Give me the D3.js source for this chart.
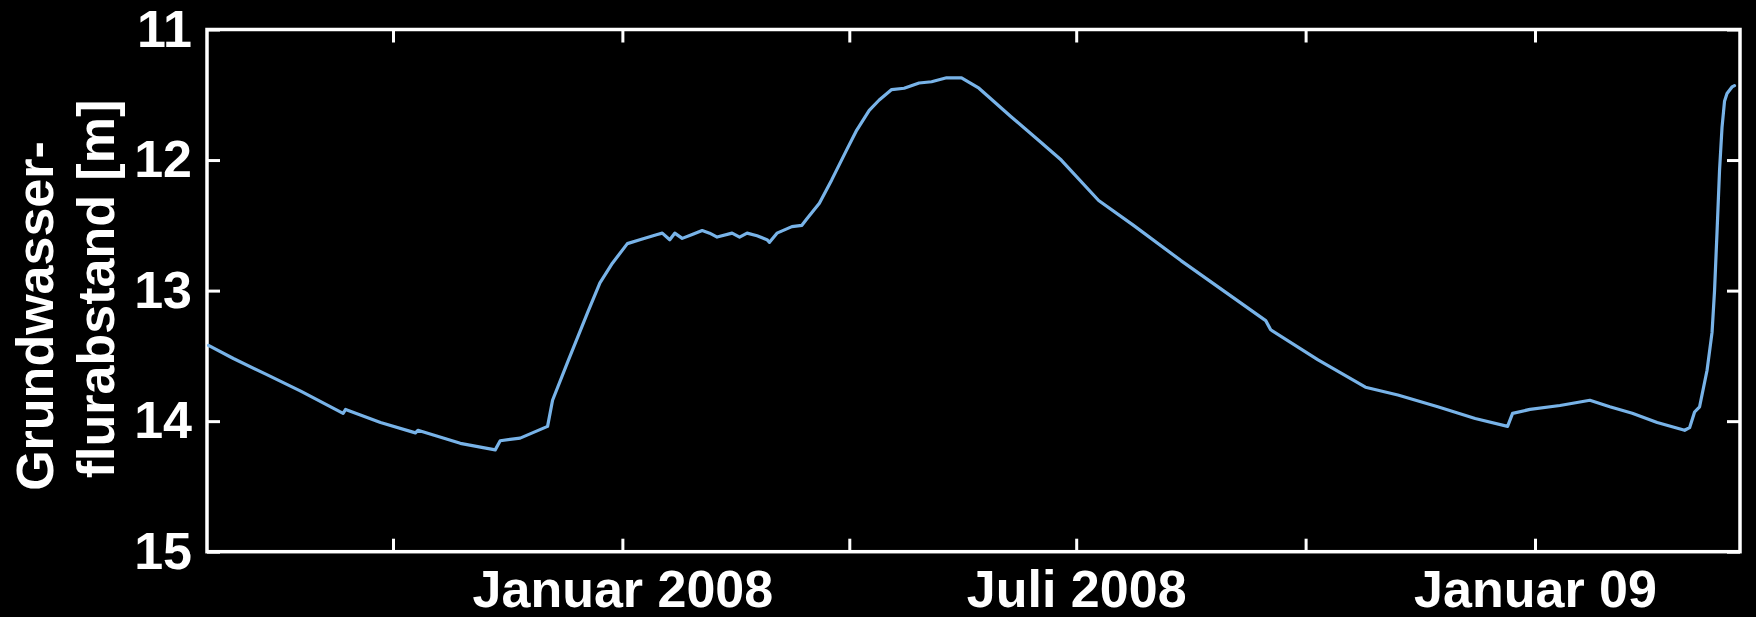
<!DOCTYPE html>
<html>
<head>
<meta charset="utf-8">
<script src="https://cdn.jsdelivr.net/npm/d3@7"></script>
<style>
  html, body { margin: 0; padding: 0; background: #000; }
  svg { display: block; }
  text { font-family: "Liberation Sans", Arial, sans-serif; font-weight: bold; fill: #fff; }
</style>
</head>
<body>
<svg id="chart" width="1756" height="617"></svg>
<script>
// Groundwater depth below surface (m), measured dates
const dates = [
  "2007-07-19","2007-07-29","2007-08-11","2007-08-25","2007-09-11","2007-09-12","2007-09-26",
  "2007-10-10","2007-10-11","2007-10-28","2007-11-11","2007-11-13","2007-11-21","2007-12-02",
  "2007-12-04","2007-12-10","2007-12-18","2007-12-23","2007-12-28","2008-01-03","2008-01-08",
  "2008-01-15","2008-01-17","2008-01-20","2008-01-22","2008-01-25","2008-01-29","2008-02-02",
  "2008-02-05","2008-02-08","2008-02-14","2008-02-17","2008-02-20","2008-02-24","2008-02-28",
  "2008-02-29","2008-03-03","2008-03-09","2008-03-13","2008-03-15","2008-03-20","2008-03-25",
  "2008-03-31","2008-04-04","2008-04-09","2008-04-13","2008-04-18","2008-04-23","2008-04-29",
  "2008-05-04","2008-05-10","2008-05-16","2008-05-23","2008-06-05","2008-06-16","2008-06-25",
  "2008-07-10","2008-07-24","2008-08-12","2008-08-29","2008-09-15","2008-09-17","2008-10-06",
  "2008-10-25","2008-11-07","2008-11-23","2008-12-08","2008-12-21","2008-12-23","2008-12-30",
  "2009-01-11","2009-01-23","2009-01-31","2009-02-09","2009-02-19","2009-03-02","2009-03-04",
  "2009-03-06","2009-03-08","2009-03-11","2009-03-13","2009-03-14","2009-03-15","2009-03-16",
  "2009-03-17","2009-03-18","2009-03-19","2009-03-21","2009-03-22"
];
const depth = [
  13.42, 13.52, 13.64, 13.77, 13.94, 13.91, 14.01,
  14.09, 14.07, 14.17, 14.22, 14.15, 14.13, 14.04,
  13.84, 13.55, 13.17, 12.94, 12.79, 12.64, 12.61,
  12.57, 12.56, 12.61, 12.56, 12.60, 12.57, 12.54,
  12.56, 12.59, 12.56, 12.59, 12.56, 12.58, 12.61,
  12.63, 12.56, 12.51, 12.50, 12.45, 12.33, 12.15,
  11.92, 11.77, 11.62, 11.54, 11.46, 11.45, 11.41,
  11.40, 11.37, 11.37, 11.45, 11.67, 11.85, 12.00,
  12.31, 12.50, 12.77, 13.00, 13.23, 13.30, 13.53,
  13.74, 13.80, 13.89, 13.98, 14.04, 13.94, 13.91,
  13.88, 13.84, 13.89, 13.94, 14.01, 14.07, 14.05,
  13.93, 13.89, 13.61, 13.32, 13.00, 12.55, 12.08,
  11.75, 11.55, 11.49, 11.44, 11.43
];

// Axis ticks
const xTickDates = ["2007-10-01","2008-01-01","2008-04-01","2008-07-01","2008-10-01","2009-01-01"];
const xTickLabels = ["", "Januar 2008", "", "Juli 2008", "", "Januar 09"];
const yTicks = [11, 12, 13, 14, 15];
const yTitle = ["Grundwasser-", "flurabstand [m]"];

const parse = d3.timeParse("%Y-%m-%d");
const parseDT = d3.timeParse("%Y-%m-%dT%H:%M");
const series = dates.map((d, i) => ({ t: parse(d), v: depth[i] }));

const plot = { left: 207, right: 1740, top: 29.5, bottom: 551.7 };
const svg = d3.select("#chart");
svg.append("rect").attr("width", 1756).attr("height", 617).attr("fill", "#000");

const x = d3.scaleTime()
  .domain([parseDT("2007-07-18T10:00"), parseDT("2009-03-24T05:00")])
  .range([plot.left, plot.right]);
const y = d3.scaleLinear().domain([11, 15]).range([plot.top, plot.bottom]);

const tickLen = 13;
const fs = 52;
const xt = xTickDates.map(parse);
const labelFor = d => xTickLabels[xt.findIndex(t => +t === +d)];

// bottom axis with labels
const gb = svg.append("g").attr("transform", `translate(0,${plot.bottom})`)
  .call(d3.axisBottom(x).tickValues(xt).tickSizeInner(-tickLen).tickSizeOuter(0)
    .tickPadding(18).tickFormat(labelFor));
// top axis, ticks only
const gt = svg.append("g").attr("transform", `translate(0,${plot.top})`)
  .call(d3.axisTop(x).tickValues(xt).tickSizeInner(-tickLen).tickSizeOuter(0).tickFormat(""));
// left axis with labels
const gl = svg.append("g").attr("transform", `translate(${plot.left},0)`)
  .call(d3.axisLeft(y).tickValues(yTicks).tickSizeInner(-tickLen).tickSizeOuter(0)
    .tickPadding(15).tickFormat(d3.format("d")));
// right axis, ticks only
const gr = svg.append("g").attr("transform", `translate(${plot.right},0)`)
  .call(d3.axisRight(y).tickValues(yTicks).tickSizeInner(-tickLen).tickSizeOuter(0).tickFormat(""));

[gb, gt, gl, gr].forEach(g => {
  g.select(".domain").remove();
  g.selectAll(".tick line").attr("stroke", "#fff").attr("stroke-width", 3);
  g.selectAll(".tick text")
    .style("font-family", '"Liberation Sans", Arial, sans-serif')
    .style("font-weight", "bold")
    .style("font-size", fs + "px")
    .attr("fill", "#fff");
});

// frame
svg.append("rect")
  .attr("x", plot.left).attr("y", plot.top)
  .attr("width", plot.right - plot.left).attr("height", plot.bottom - plot.top)
  .attr("fill", "none").attr("stroke", "#fff").attr("stroke-width", 3.5);

// y axis title, two lines
const titlePos = [{ x: 53, y: 316 }, { x: 114, y: 289 }];
yTitle.forEach((s, i) => {
  svg.append("text")
    .attr("transform", `translate(${titlePos[i].x},${titlePos[i].y}) rotate(-90)`)
    .attr("text-anchor", "middle")
    .style("font-size", fs + "px")
    .text(s);
});

// data line
svg.append("defs").append("clipPath").attr("id", "clip")
  .append("rect").attr("x", plot.left).attr("y", plot.top)
  .attr("width", plot.right - plot.left).attr("height", plot.bottom - plot.top);

const line = d3.line().x(d => x(d.t)).y(d => y(d.v)).curve(d3.curveLinear);
svg.append("path")
  .datum(series)
  .attr("clip-path", "url(#clip)")
  .attr("fill", "none")
  .attr("stroke", "#78b3e8")
  .attr("stroke-width", 3.2)
  .attr("stroke-linejoin", "round")
  .attr("stroke-linecap", "round")
  .attr("d", line);
</script>
</body>
</html>
